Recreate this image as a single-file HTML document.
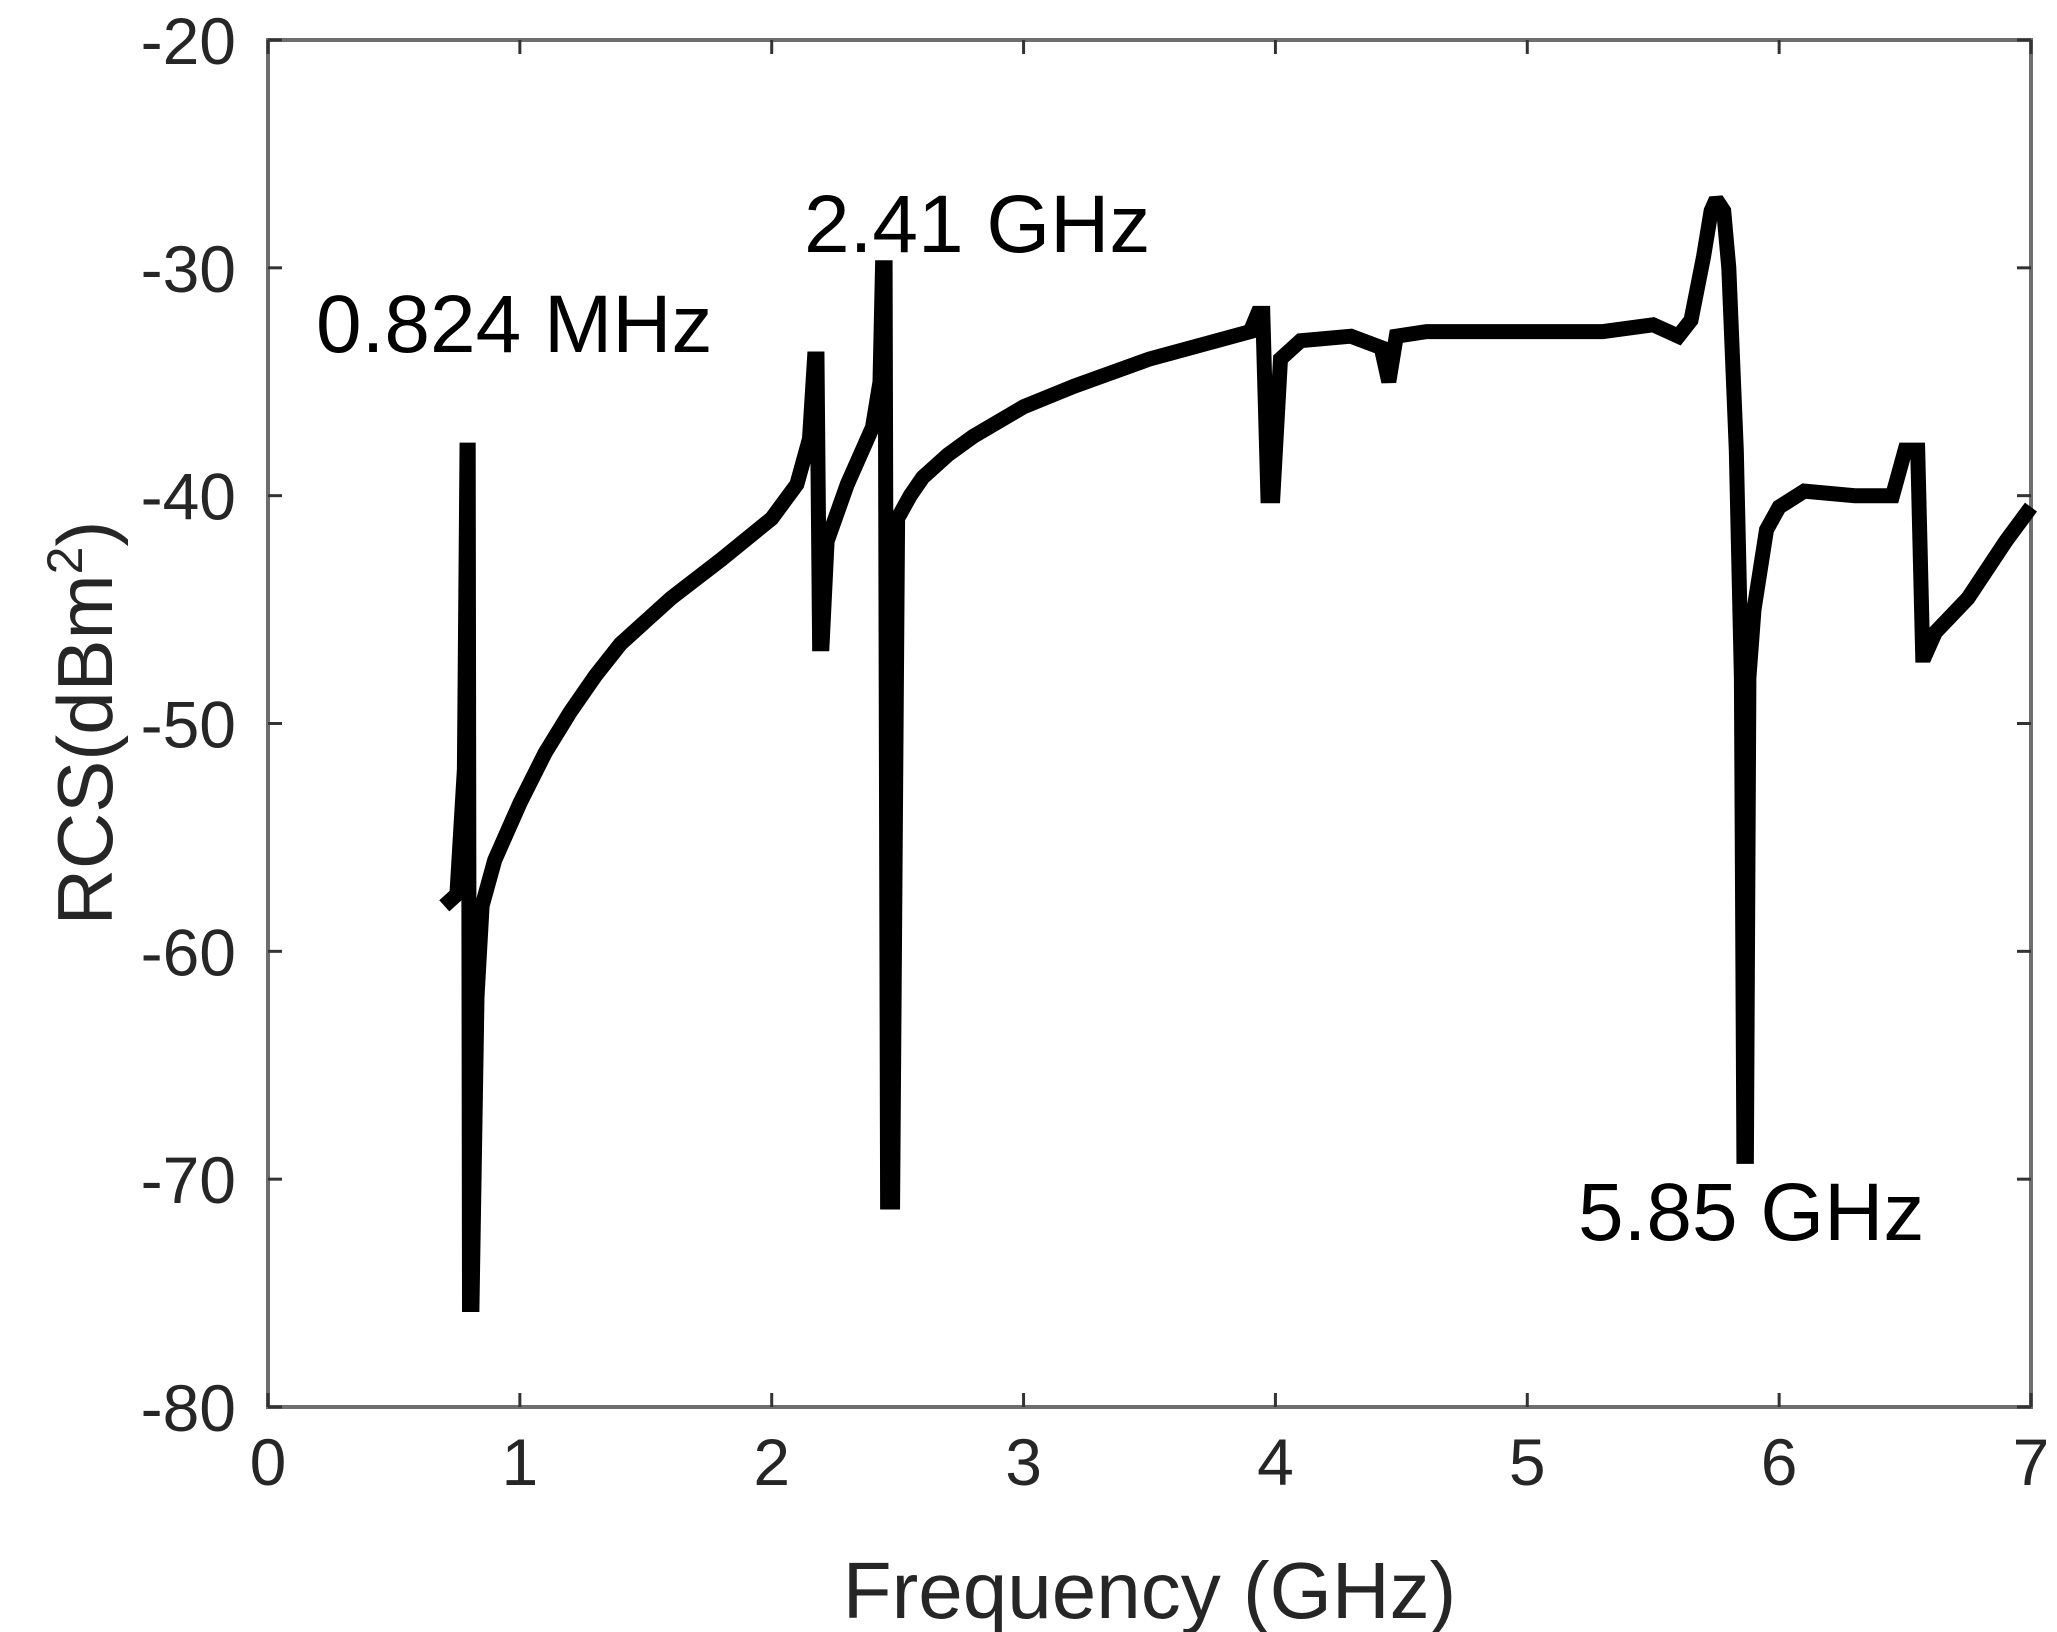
<!DOCTYPE html>
<html><head><meta charset="utf-8"><style>
html,body{margin:0;padding:0;background:#fff}
svg{display:block}
.tk{font-family:"Liberation Sans",sans-serif;font-size:66px;fill:#262626}
.an{font-family:"Liberation Sans",sans-serif;font-size:82px;fill:#000}
</style></head><body>
<svg id="chart" width="2057" height="1632" viewBox="0 0 2057 1632">
<rect x="0" y="0" width="2057" height="1632" fill="#fff"/>
<g id="plot"></g>
</svg>
<script>
const xTicks=[0,1,2,3,4,5,6,7];
const yTicks=[-20,-30,-40,-50,-60,-70,-80];
const freqs=[0.7,0.75,0.78,0.79,0.795,0.80,0.81,0.83,0.85,0.9,1.0,1.1,1.2,1.3,1.4,1.5,1.6,1.8,2.0,2.1,2.15,2.17,2.18,2.19,2.2,2.22,2.3,2.4,2.43,2.44,2.45,2.46,2.48,2.5,2.55,2.6,2.7,2.8,3.0,3.2,3.5,3.9,3.93,3.95,3.97,3.99,4.02,4.1,4.3,4.42,4.45,4.48,4.6,5.0,5.3,5.5,5.6,5.65,5.7,5.73,5.75,5.78,5.8,5.83,5.85,5.86,5.87,5.88,5.9,5.95,6.0,6.1,6.3,6.45,6.5,6.55,6.57,6.58,6.62,6.75,6.9,7.0];
const rcs=[-58,-57.5,-52,-38,-38,-75.5,-75.5,-62,-58,-56,-53.5,-51.3,-49.5,-47.9,-46.5,-45.5,-44.5,-42.8,-41,-39.5,-37.5,-34,-34,-46.5,-46.5,-42,-39.5,-37,-35,-30,-30,-71,-71,-41,-40,-39.2,-38.2,-37.4,-36.1,-35.2,-34,-32.8,-32,-32,-40,-40,-34,-33.2,-33,-33.5,-35,-33,-32.8,-32.8,-32.8,-32.5,-33,-32.3,-29.5,-27.5,-27,-27.5,-30,-38,-48,-69,-69,-48,-45,-41.5,-40.5,-39.8,-40,-40,-38,-38,-47,-47,-46,-44.5,-42,-40.5];
const annotations=["0.824 MHz","2.41 GHz","5.85 GHz"];
const L=268,R=2031,T=40,B=1407;
const sx=v=>L+(v-0)/(7-0)*(R-L);
const sy=v=>T+(-20-v)/60*(B-T);
const NS="http://www.w3.org/2000/svg";
const g=document.getElementById('plot');
function mk(t,a){const e=document.createElementNS(NS,t);for(const k in a)e.setAttribute(k,a[k]);g.appendChild(e);return e;}
const frame=mk('rect',{x:L,y:T,width:R-L,height:B-T,fill:'none',stroke:'#6e6e6e','stroke-width':4});


xTicks.forEach(v=>{
  const x=sx(v);
  const t1=mk('line',{x1:x,y1:B,x2:x,y2:B-14,stroke:'#333','stroke-width':3});
  
  
  const t2=mk('line',{x1:x,y1:T,x2:x,y2:T+14,stroke:'#333','stroke-width':3});
  
  
  const tx=mk('text',{x:x,y:B+78,'text-anchor':'middle',class:'tk'});tx.textContent=v;
  
  
});
yTicks.forEach(v=>{
  const y=sy(v);
  const t1=mk('line',{x1:L,y1:y,x2:L+14,y2:y,stroke:'#333','stroke-width':3});
  
  
  const t2=mk('line',{x1:R,y1:y,x2:R-14,y2:y,stroke:'#333','stroke-width':3});
  
  
  const tx=mk('text',{x:L-32,y:y+24,'text-anchor':'end',class:'tk'});tx.textContent=v;
  
  
});
const pts=freqs.map((f,i)=>sx(f).toFixed(1)+','+sy(rcs[i]).toFixed(1)).join(' ');
const line=mk('polyline',{points:pts,fill:'none',stroke:'#000','stroke-width':15,'stroke-linejoin':'miter','stroke-miterlimit':2});


const xt=mk('text',{x:(L+R)/2,y:1618,'text-anchor':'middle',class:'tk'});xt.textContent='Frequency (GHz)';


xt.style.fontSize='80px';
const yt=mk('text',{x:0,y:0,'text-anchor':'middle',class:'tk',transform:'translate(112,723) rotate(-90)'});
yt.style.fontSize='78px';
yt.innerHTML='RCS(dBm<tspan dy="-30" font-size="50">2</tspan><tspan dy="30">)</tspan>';


const apos=[[316,352],[804,252],[1578,1240]];
annotations.forEach((s,i)=>{
  const a=mk('text',{x:apos[i][0],y:apos[i][1],class:'an'});a.textContent=s;
  
  
});
</script>
</body></html>
